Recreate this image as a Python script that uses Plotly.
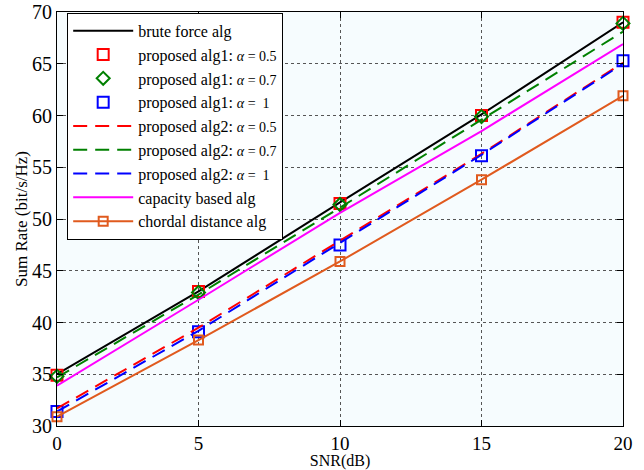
import plotly.graph_objects as go

snr = [0, 5, 10, 15, 20]
brute = [35.0, 43.0, 51.6, 60.1, 69.0]
alg1_05 = [34.9, 43.0, 51.5, 60.0, 69.0]
alg1_07 = [34.8, 42.9, 51.4, 59.9, 68.9]
alg1_10 = [31.4, 39.1, 47.5, 56.1, 65.3]
alg2_05 = [31.7, 39.5, 47.9, 56.3, 65.1]
alg2_07 = [34.7, 42.7, 51.1, 59.6, 68.1]
alg2_10 = [31.4, 39.2, 47.7, 56.2, 65.0]
capacity = [33.9, 42.2, 50.6, 58.5, 66.9]
chordal = [30.9, 38.3, 45.9, 53.8, 61.9]

SERIF = "Liberation Serif, Times New Roman, serif"

def lab(prefix, a):
    return (prefix + ' <span style="font-size:14px"><i>α</i> = ' + a + '</span>')

fig = go.Figure()
fig.add_trace(go.Scatter(x=snr, y=brute, mode="lines", name="brute force alg",
                         line=dict(color="black", width=2)))
fig.add_trace(go.Scatter(x=snr, y=alg1_05, mode="markers", name=lab("proposed alg1:", "0.5"),
                         cliponaxis=False,
                         marker=dict(symbol="square-open", size=11, color="#ff0000", line=dict(width=2))))
fig.add_trace(go.Scatter(x=snr, y=alg1_07, mode="markers", name=lab("proposed alg1:", "0.7"),
                         cliponaxis=False,
                         marker=dict(symbol="diamond-open", size=10, color="#008000", line=dict(width=2))))
fig.add_trace(go.Scatter(x=snr, y=alg1_10, mode="markers", name=lab("proposed alg1:", "&nbsp;1"),
                         cliponaxis=False,
                         marker=dict(symbol="square-open", size=11, color="#0000ff", line=dict(width=2))))
fig.add_trace(go.Scatter(x=snr, y=alg2_05, mode="lines", name=lab("proposed alg2:", "0.5"),
                         line=dict(color="#ff0000", width=2, dash="14px,8px")))
fig.add_trace(go.Scatter(x=snr, y=alg2_07, mode="lines", name=lab("proposed alg2:", "0.7"),
                         line=dict(color="#008000", width=2, dash="14px,8px")))
fig.add_trace(go.Scatter(x=snr, y=alg2_10, mode="lines", name=lab("proposed alg2:", "&nbsp;1"),
                         line=dict(color="#0000ff", width=2, dash="14px,8px")))
fig.add_trace(go.Scatter(x=snr, y=capacity, mode="lines", name="capacity based alg",
                         line=dict(color="#ff00ff", width=2)))
fig.add_trace(go.Scatter(x=snr, y=chordal, mode="lines+markers", name="chordal distance alg",
                         cliponaxis=False,
                         line=dict(color="#e05a1e", width=2),
                         marker=dict(symbol="square-open", size=9, color="#e05a1e", line=dict(width=2))))

axis_common = dict(showline=True, linecolor="black", linewidth=1, mirror="ticks",
                   ticks="inside", ticklen=6, tickcolor="black",
                   showgrid=True, gridcolor="#555555", griddash="dot", gridwidth=1,
                   zeroline=False, automargin=False, ticklabeloverflow="allow")

fig.update_layout(
    width=644, height=470,
    margin=dict(l=57, r=21, t=12, b=44),
    paper_bgcolor="white", plot_bgcolor="#f6fcfe",
    font=dict(family=SERIF, size=18, color="black"),
    xaxis=dict(range=[0, 20], tickvals=[0, 5, 10, 15, 20],
               tickfont=dict(family=SERIF, size=19, color="black"),
               title=dict(text="SNR(dB)", standoff=0, font=dict(family=SERIF, size=16)), **axis_common),
    yaxis=dict(range=[30, 70], tickvals=[30, 35, 40, 45, 50, 55, 60, 65, 70],
               tickfont=dict(family=SERIF, size=20, color="black"),
               title=dict(text="Sum Rate (bit/s/Hz)", standoff=0, font=dict(family=SERIF, size=17)), **axis_common),
    legend=dict(x=0.018, y=0.998, xanchor="left", yanchor="top",
                bgcolor="white", bordercolor="black", borderwidth=1,
                font=dict(family=SERIF, size=16, color="black"),
                tracegroupgap=0, itemwidth=60),
    showlegend=True,
)

fig.write_html("out.html", config={"displayModeBar": False},
               post_script="document.body.style.margin='0';")
